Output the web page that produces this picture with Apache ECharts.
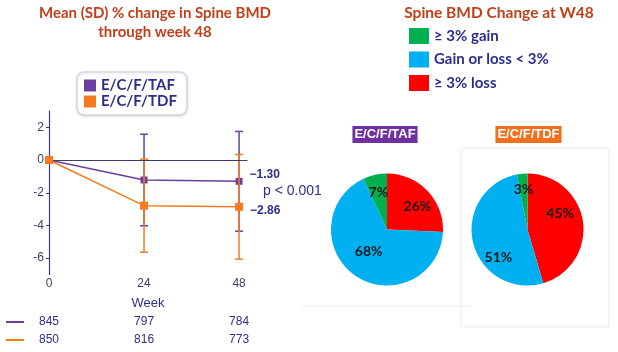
<!DOCTYPE html>
<html>
<head>
<meta charset="utf-8" />
<title>Spine BMD</title>
<script src="https://cdn.jsdelivr.net/npm/echarts@6/dist/echarts.min.js"></script>
<style>
  html, body { margin: 0; padding: 0; background: #fff; }
  #main { width: 618px; height: 352px; }
</style>
</head>
<body>
<div id="main"></div>
<script type="text/javascript">
    // data
    var weeks = [0, 24, 48];
    var tafMean = [0, -1.22, -1.30];
    var tafSD = [0, 2.8, 3.05];
    var tdfMean = [0, -2.79, -2.86];
    var tdfSD = [0, 2.85, 3.2];
    var tafN = [845, 797, 784];
    var tdfN = [850, 816, 773];
    var yTicks = [-6, -4, -2, 0, 2];
    var xTicks = [0, 24, 48];

    var pieNames = ['≥ 3% loss', 'Gain or loss < 3%', '≥ 3% gain'];
    var pieColors = ['#ff0000', '#00b0f0', '#00b050'];
    var tafPie = [26, 68, 7];
    var tdfPie = [45, 51, 3];

    var navy = '#2e2e8a';
    var axisCol = '#3d3d6b';
    var purple = '#6a3fa0';
    var orange = '#f47b20';
    var titleCol = '#c0401a';

    function lineData(mean) {
        return weeks.map(function (w, i) {
            var d = { value: [w, mean[i]] };
            if (i === weeks.length - 1) {
                d.label = {
                    show: true, position: 'right', distance: 7,
                    offset: mean === tafMean ? [0, -7] : [0, 4],
                    color: navy, fontWeight: 'bold', fontSize: 12,
                    fontFamily: 'Liberation Sans',
                    formatter: function (p) { return '\u2212' + Math.abs(p.value[1]).toFixed(2); }
                };
            }
            return d;
        });
    }

    function barData(mean, sd) {
        var out = [];
        weeks.forEach(function (w, i) {
            if (sd[i] > 0) out.push([w, mean[i] - sd[i], mean[i] + sd[i]]);
        });
        return out;
    }

    function errorBars(color) {
        return function (params, api) {
            var x = api.value(0);
            var lo = api.coord([x, api.value(1)]);
            var hi = api.coord([x, api.value(2)]);
            var w = 4;
            var st = { stroke: color, lineWidth: 1.5 };
            return {
                type: 'group',
                children: [
                    { type: 'line', shape: { x1: lo[0], y1: lo[1], x2: hi[0], y2: hi[1] }, style: st },
                    { type: 'line', shape: { x1: lo[0] - w, y1: lo[1], x2: lo[0] + w, y2: lo[1] }, style: st },
                    { type: 'line', shape: { x1: hi[0] - w, y1: hi[1], x2: hi[0] + w, y2: hi[1] }, style: st }
                ]
            };
        };
    }

    // label nudges so the percentages sit where the slide has them
    function pieSeries(vals, cx, nudges) {
        return {
            type: 'pie',
            radius: 56,
            center: [cx, 229.5],
            startAngle: 90,
            clockwise: true,
            silent: true,
            label: {
                show: true, position: 'inside', formatter: '{c}%',
                color: '#1a1a1a', fontWeight: 'bold', fontSize: 14, fontFamily: 'Lato'
            },
            labelLine: { show: false },
            data: vals.map(function (v, i) {
                return {
                    name: pieNames[i], value: v,
                    itemStyle: { color: pieColors[i] },
                    label: { offset: nudges[i] }
                };
            })
        };
    }

    var myChart = echarts.init(document.getElementById('main'));
    var option = {
        animation: false,
        backgroundColor: '#fff',
        title: [
            {
                text: 'Mean (SD) % change in Spine BMD\nthrough week 48',
                left: 150, top: -1, textAlign: 'center',
                textStyle: { color: titleCol, fontWeight: 'bold', fontSize: 15, lineHeight: 19, fontFamily: 'Lato' }
            },
            {
                text: 'Spine BMD Change at W48',
                left: 494, top: 0, textAlign: 'center',
                textStyle: { color: titleCol, fontWeight: 'bold', fontSize: 15.5, fontFamily: 'Lato' }
            },
            {
                text: 'E/C/F/TAF', left: 383, top: 126, textAlign: 'center',
                backgroundColor: '#7030a0', padding: [2, 2],
                textStyle: { color: '#fff', fontWeight: 'bold', fontSize: 13, fontFamily: 'Liberation Sans' }
            },
            {
                text: 'E/C/F/TDF', left: 526.5, top: 126, textAlign: 'center',
                backgroundColor: '#f07020', padding: [2, 2],
                textStyle: { color: '#fff', fontWeight: 'bold', fontSize: 13, fontFamily: 'Liberation Sans' }
            }
        ],
        legend: [
            {
                data: ['E/C/F/TAF', 'E/C/F/TDF'],
                orient: 'vertical', left: 77, top: 72,
                icon: 'rect', itemWidth: 12, itemHeight: 12, itemGap: 1,
                padding: [6, 10, 6, 7],
                backgroundColor: '#fff', borderColor: '#d6d6e4', borderWidth: 1.5, borderRadius: 7,
                shadowColor: 'rgba(0,0,0,0.12)', shadowBlur: 3, shadowOffsetY: 1,
                textStyle: { color: navy, fontWeight: 'bold', fontSize: 15, lineHeight: 14, fontFamily: 'Lato' }
            },
            {
                data: ['≥ 3% gain', 'Gain or loss < 3%', '≥ 3% loss'],
                orient: 'vertical', left: 404, top: 23,
                icon: 'rect', itemWidth: 20, itemHeight: 16, itemGap: 7.5,
                textStyle: { color: navy, fontWeight: 'bold', fontSize: 15, fontFamily: 'Lato' }
            }
        ],
        grid: { left: 49, top: 111, width: 198, height: 163.5 },
        xAxis: {
            type: 'value', min: 0, max: 50,
            name: 'Week', nameLocation: 'middle', nameGap: 22,
            nameTextStyle: { color: navy, fontSize: 13, fontFamily: 'Liberation Sans' },
            axisLine: { show: true, lineStyle: { color: axisCol, width: 1.2 } },
            axisTick: { show: false },
            splitLine: { show: false },
            axisLabel: { customValues: xTicks, color: axisCol, fontSize: 12, fontFamily: 'Liberation Sans', margin: 3 }
        },
        yAxis: {
            type: 'value', min: -7, max: 3,
            axisLine: { show: true, lineStyle: { color: axisCol, width: 1.2 } },
            axisTick: { show: true, customValues: yTicks, length: 3, lineStyle: { color: axisCol } },
            splitLine: { show: false },
            axisLabel: { customValues: yTicks, color: axisCol, fontSize: 12, fontFamily: 'Liberation Sans', margin: 5 }
        },
        series: [
            {
                name: 'E/C/F/TAF', type: 'line', data: lineData(tafMean),
                symbol: 'rect', symbolSize: 7, color: purple,
                lineStyle: { color: purple, width: 1.5 },
                z: 3,
                markLine: {
                    silent: true, symbol: 'none', label: { show: false },
                    lineStyle: { color: axisCol, width: 1.2, type: 'solid' },
                    data: [{ yAxis: 0 }]
                }
            },
            {
                name: 'E/C/F/TDF', type: 'line', data: lineData(tdfMean),
                symbol: 'rect', symbolSize: 8, color: orange,
                lineStyle: { color: orange, width: 1.5 },
                z: 5
            },
            {
                type: 'custom', name: 'E/C/F/TAF', renderItem: errorBars(purple), color: purple,
                data: barData(tafMean, tafSD), z: 2, silent: true
            },
            {
                type: 'custom', name: 'E/C/F/TDF', renderItem: errorBars(orange), color: orange,
                data: barData(tdfMean, tdfSD), z: 4, silent: true
            },
            pieSeries(tafPie, 387, [[-2, -7], [-1, -4], [8, -2]].reverse()),
            pieSeries(tdfPie, 527.5, [[2, -12], [1, 21], [-1, -9]])
        ]
    };
    myChart.setOption(option);

    // faint slide frames, p-value note and n at risk rows
    var g = [
        { type: 'rect', shape: { x: 461, y: 148, width: 148, height: 179 }, style: { fill: 'none', stroke: '#ececec', lineWidth: 1 }, z: -1 },
        { type: 'line', shape: { x1: 302, y1: 306, x2: 472, y2: 306 }, style: { stroke: '#ececec', lineWidth: 1 }, z: -1 },
        { type: 'text', x: 263, y: 191, style: { text: 'p < 0.001', fill: navy, fontSize: 14, fontFamily: 'Liberation Sans', verticalAlign: 'middle' } },
        { type: 'line', shape: { x1: 6, y1: 322, x2: 24, y2: 322 }, style: { stroke: purple, lineWidth: 2 } },
        { type: 'line', shape: { x1: 6, y1: 340, x2: 24, y2: 340 }, style: { stroke: orange, lineWidth: 2 } }
    ];
    weeks.forEach(function (w, i) {
        var px = myChart.convertToPixel({ gridIndex: 0 }, [w, 0])[0];
        g.push({ type: 'text', x: px, y: 322, style: { text: String(tafN[i]), fill: navy, fontSize: 12, fontFamily: 'Liberation Sans', align: 'center', verticalAlign: 'middle' } });
        g.push({ type: 'text', x: px, y: 340, style: { text: String(tdfN[i]), fill: navy, fontSize: 12, fontFamily: 'Liberation Sans', align: 'center', verticalAlign: 'middle' } });
    });
    myChart.setOption({ graphic: g });
</script>
</body>
</html>
